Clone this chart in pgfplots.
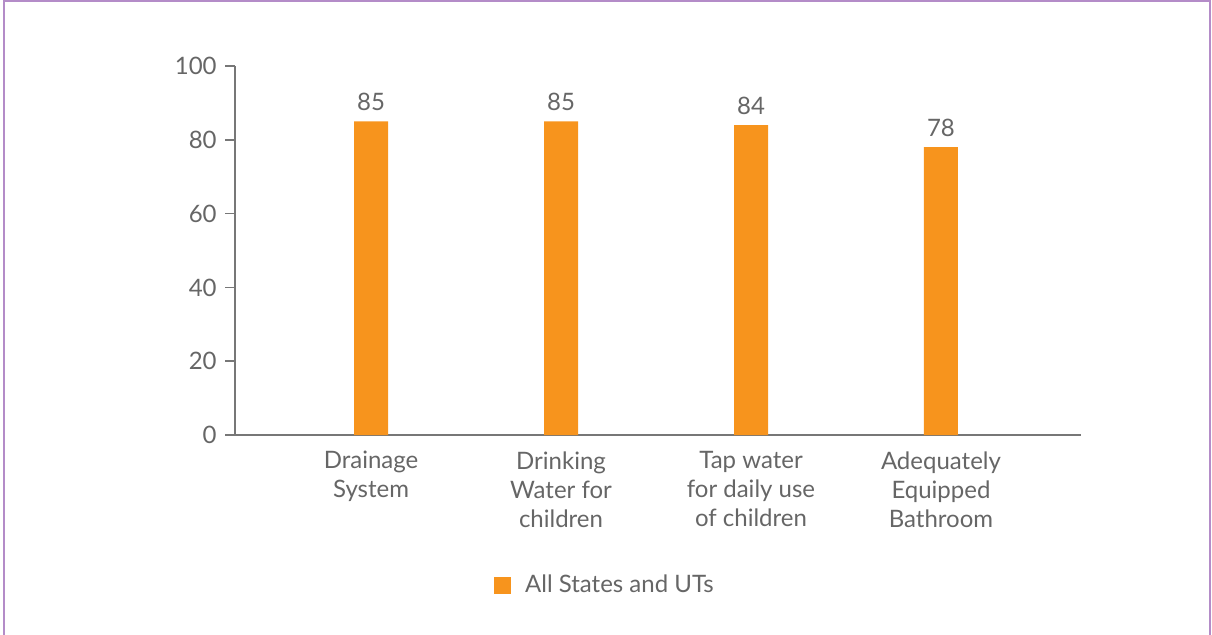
\documentclass[border=0pt]{standalone}
\usepackage{pgfplots}
\pgfplotsset{compat=1.18}
\usepackage{fontspec}
\setmainfont{Lato}
\definecolor{barorange}{HTML}{F7941D}
\definecolor{txtgray}{HTML}{666666}
\definecolor{axgray}{HTML}{777777}
\definecolor{framepurple}{HTML}{B48CC8}

\begin{document}
\fontsize{12}{14.5}\selectfont
\begin{tikzpicture}
    \useasboundingbox (0,0) rectangle (606pt,317pt);
    \draw[framepurple, line width=0.9pt] (2pt,-5pt) -- (2pt,316.6pt) -- (605pt,316.6pt) -- (605pt,-5pt);
    \begin{axis}[
            at={(117.5pt,99.5pt)},
            anchor=south west,
            scale only axis,
            width=423pt,
            height=184.5pt,
            ybar,
            bar width=17pt,
            xmin=-0.716, xmax=3.737,
            ymin=0, ymax=100,
            ytick={0,20,...,100},
            xtick=data,
            xticklabels={Drainage\\System, Drinking\\Water for\\children, Tap water\\for daily use\\of children, Adequately\\Equipped\\Bathroom},
            x tick label style={align=center, text=txtgray, font=\fontsize{12}{14.5}\selectfont, yshift=1pt},
            y tick label style={text=txtgray, font=\fontsize{12}{14.5}\selectfont, xshift=0pt},
            /pgf/number format/assume math mode=true,
            axis x line*=bottom,
            axis y line*=left,
            axis line style={axgray, line width=0.75pt},
            x axis line style={shorten <=-5pt},
            xtick style={draw=none},
            ytick style={axgray, line width=0.75pt},
            ytick align=outside,
            major tick length=5pt,
            nodes near coords,
            every node near coord/.append style={text=txtgray, font=\fontsize{12}{14.5}\selectfont, yshift=1pt},
            legend style={at={(0.4385,-0.409)}, anchor=center, draw=none, fill=none,
                font=\fontsize{12}{14.5}\selectfont, text=txtgray,
                legend cell align=left},
            legend image code/.code={\fill[barorange] (0pt,-4.25pt) rectangle (8.5pt,4.25pt);},
            ]
        \addplot[fill=barorange, draw=none] coordinates {
            (0,85)
            (1,85)
            (2,84)
            (3,78)};
        \addlegendentry{\hspace{5pt}All States and UTs}
    \end{axis}
\end{tikzpicture}
\end{document}
